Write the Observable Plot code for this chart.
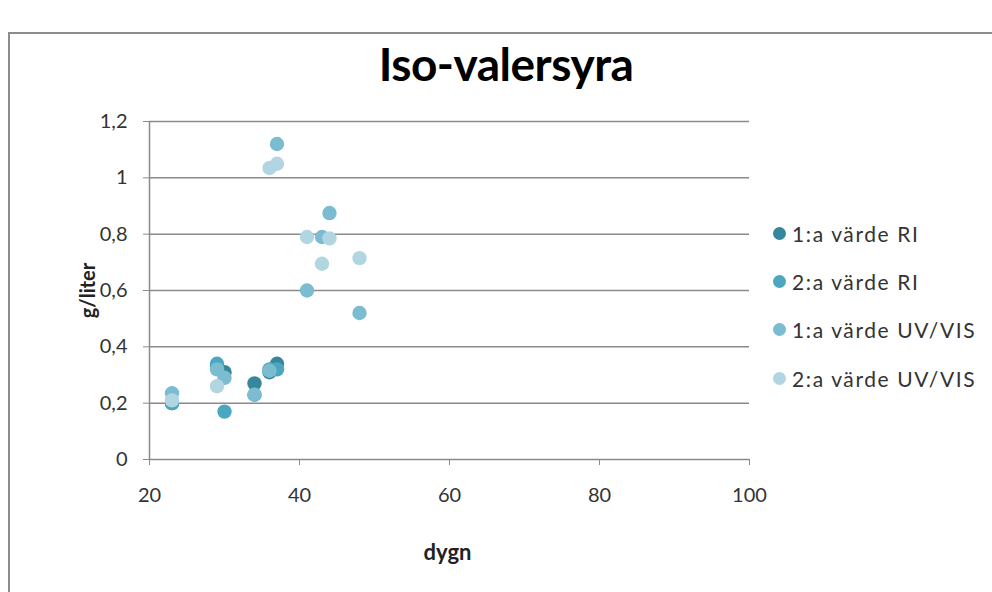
<!DOCTYPE html>
<html>
<head>
<meta charset="utf-8">
<script src="https://cdn.jsdelivr.net/npm/d3@7"></script>
<script src="https://cdn.jsdelivr.net/npm/@observablehq/plot@0.6"></script>
<style>
  html, body { margin: 0; padding: 0; background: #fff; }
  #wrap { position: relative; width: 992px; height: 592px; overflow: hidden; font-family: Lato, "Open Sans", sans-serif; }
  #border { position: absolute; left: 8px; top: 32px; width: 1010px; height: 620px; border: 2px solid #8c8c8c; box-sizing: border-box; }
  #title { position: absolute; left: 0; width: 1012px; top: 40px; text-align: center; font-weight: bold; font-size: 46px; letter-spacing: -0.5px; line-height: 48px; color: #000; }
  #chart { position: absolute; left: 0; top: 0; }
  #legend { position: absolute; left: 773px; top: 209px; }
  .item { display: flex; align-items: center; height: 48.3px; font-size: 21px; letter-spacing: 1.6px; color: #333; }
  .sw { width: 13px; height: 13px; border-radius: 50%; margin-right: 6px; flex: none; }
</style>
</head>
<body>
<div id="wrap">
  <div id="border"></div>
  <div id="title">Iso-valersyra</div>
  <div id="chart"></div>
  <div id="legend"></div>
</div>
<script>
// Series names and colours
const seriesNames = ["1:a värde RI", "2:a värde RI", "1:a värde UV/VIS", "2:a värde UV/VIS"];
const seriesColors = ["#36879c", "#4aa7bf", "#7cbcd0", "#b2d6e1"];

// 1:a värde RI
const ri1Days = [23, 29, 30, 34, 36, 37];
const ri1Vals = [0.20, 0.33, 0.31, 0.27, 0.31, 0.34];
// 2:a värde RI
const ri2Days = [23, 29, 30, 34, 36, 37];
const ri2Vals = [0.20, 0.34, 0.17, 0.23, 0.32, 0.32];
// 1:a värde UV/VIS
const uv1Days = [23, 29, 30, 34, 36, 37, 41, 43, 44, 48];
const uv1Vals = [0.235, 0.32, 0.29, 0.23, 0.315, 1.12, 0.60, 0.79, 0.875, 0.52];
// 2:a värde UV/VIS
const uv2Days = [23, 29, 36, 37, 41, 43, 44, 48];
const uv2Vals = [0.21, 0.26, 1.035, 1.05, 0.79, 0.695, 0.785, 0.715];

// Axis ticks
const xTicks = [20, 40, 60, 80, 100];
const yTicks = [0, 0.2, 0.4, 0.6, 0.8, 1, 1.2];
const xLabel = "dygn";
const yLabel = "g/liter";

const allDays = [ri1Days, ri2Days, uv1Days, uv2Days];
const allVals = [ri1Vals, ri2Vals, uv1Vals, uv2Vals];
const data = [];
allDays.forEach((days, s) => days.forEach((d, i) => data.push({series: seriesNames[s], day: d, value: allVals[s][i]})));

const fmt = d => String(d).replace(".", ",");

const chart = Plot.plot({
  width: 992,
  height: 592,
  marginLeft: 149,
  marginRight: 243,
  marginTop: 121,
  marginBottom: 133,
  style: { fontFamily: "Lato, 'Open Sans', sans-serif", fontSize: "20px", color: "#333", background: "transparent", overflow: "visible" },
  x: { domain: [20, 100] },
  y: { domain: [0, 1.2] },
  color: { domain: seriesNames, range: seriesColors },
  marks: [
    Plot.ruleY(yTicks, { stroke: "#8a8a8a", strokeWidth: 1.5 }),
    Plot.ruleX([20], { stroke: "#8a8a8a", strokeWidth: 1.5 }),
    Plot.axisY(yTicks, { tickFormat: fmt, tickSize: 6, tickPadding: 16, stroke: "#8a8a8a", label: null, fill: "#333" }),
    Plot.axisX(xTicks, { tickFormat: fmt, tickSize: 6, tickPadding: 22, stroke: "#8a8a8a", label: null, fill: "#333" }),
    Plot.text([yLabel], { frameAnchor: "left", textAnchor: "middle", dx: -61, rotate: -90, fontWeight: "bold", fontSize: 20, fill: "#222" }),
    Plot.text([xLabel], { frameAnchor: "bottom", dx: -2, dy: 100, fontWeight: "bold", fontSize: 22, fill: "#222" }),
    Plot.dot(data, { x: "day", y: "value", fill: "series", r: 7.2, fillOpacity: 1 })
  ]
});
document.getElementById("chart").appendChild(chart);

const legend = document.getElementById("legend");
seriesNames.forEach((n, i) => {
  const it = document.createElement("div");
  it.className = "item";
  const sw = document.createElement("div");
  sw.className = "sw";
  sw.style.background = seriesColors[i];
  const tx = document.createElement("span");
  tx.textContent = n;
  it.appendChild(sw); it.appendChild(tx);
  legend.appendChild(it);
});
</script>
</body>
</html>
